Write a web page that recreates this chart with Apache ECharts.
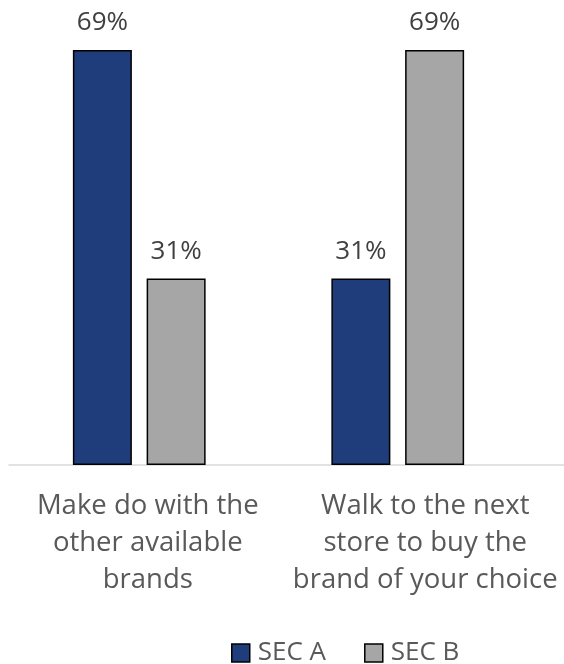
<!DOCTYPE html>
<html>
<head>
<meta charset="utf-8">
<script src="https://cdn.jsdelivr.net/npm/echarts@6/dist/echarts.min.js"></script>
<style>
  html, body { margin: 0; padding: 0; background: #ffffff; }
  #chart { width: 564px; height: 664px; }
</style>
</head>
<body>
<div id="chart"></div>
<script>
// Survey answers, share of respondents per socio-economic class
const categories = [
  'Make do with the\nother available\nbrands',
  'Walk to the next\nstore to buy the\nbrand of your choice'
];
const seriesNames = ['SEC A', 'SEC B'];
const secA = [69, 31];
const secB = [31, 69];

const FONT = '"Open Sans", sans-serif';
const colors = ['#1F3D7B', '#A6A6A6'];

const chart = echarts.init(document.getElementById('chart'), null, { renderer: 'canvas' });

function barSeries(name, data, color) {
  return {
    name: name,
    type: 'bar',
    xAxisIndex: 0,
    yAxisIndex: 0,
    data: data,
    barWidth: 59,
    barGap: '25%',
    itemStyle: { color: color, borderColor: '#000000', borderWidth: 1.5 },
    label: {
      show: true,
      position: 'top',
      distance: 14,
      formatter: p => p.value + '%',
      color: '#404040',
      fontFamily: FONT,
      fontSize: 26
    }
  };
}

chart.setOption({
  animation: false,
  backgroundColor: '#ffffff',
  grid: [
    // plotting area for the bars
    { left: 10, width: 517, top: 50, bottom: 199 },
    // same vertical extent, wider: carries the baseline and category labels
    { left: 9, width: 558, top: 50, bottom: 199 }
  ],
  xAxis: [
    {
      type: 'category', gridIndex: 0, data: categories,
      axisLine: { show: false }, axisTick: { show: false }, axisLabel: { show: false }
    },
    {
      type: 'category', gridIndex: 1, data: categories,
      axisLine: { show: true, lineStyle: { color: '#D9D9D9', width: 1.5 } },
      axisTick: { show: false },
      axisLabel: {
        margin: 23,
        color: '#595959',
        fontFamily: FONT,
        fontSize: 27.5,
        lineHeight: 37,
        interval: 0
      }
    }
  ],
  yAxis: [
    { type: 'value', gridIndex: 0, min: 0, max: 69, show: false, splitLine: { show: false } },
    { type: 'value', gridIndex: 1, min: 0, max: 69, show: false, splitLine: { show: false } }
  ],
  legend: {
    data: seriesNames,
    left: 226,
    top: 635,
    itemWidth: 18,
    itemHeight: 18,
    itemGap: 38,
    icon: 'rect',
    itemStyle: { borderColor: '#000000', borderWidth: 1.5 },
    textStyle: {
      color: '#595959',
      fontFamily: FONT,
      fontSize: 26,
      padding: [0, 0, 0, 3]
    }
  },
  series: [
    barSeries(seriesNames[0], secA, colors[0]),
    barSeries(seriesNames[1], secB, colors[1])
  ]
});
</script>
</body>
</html>
